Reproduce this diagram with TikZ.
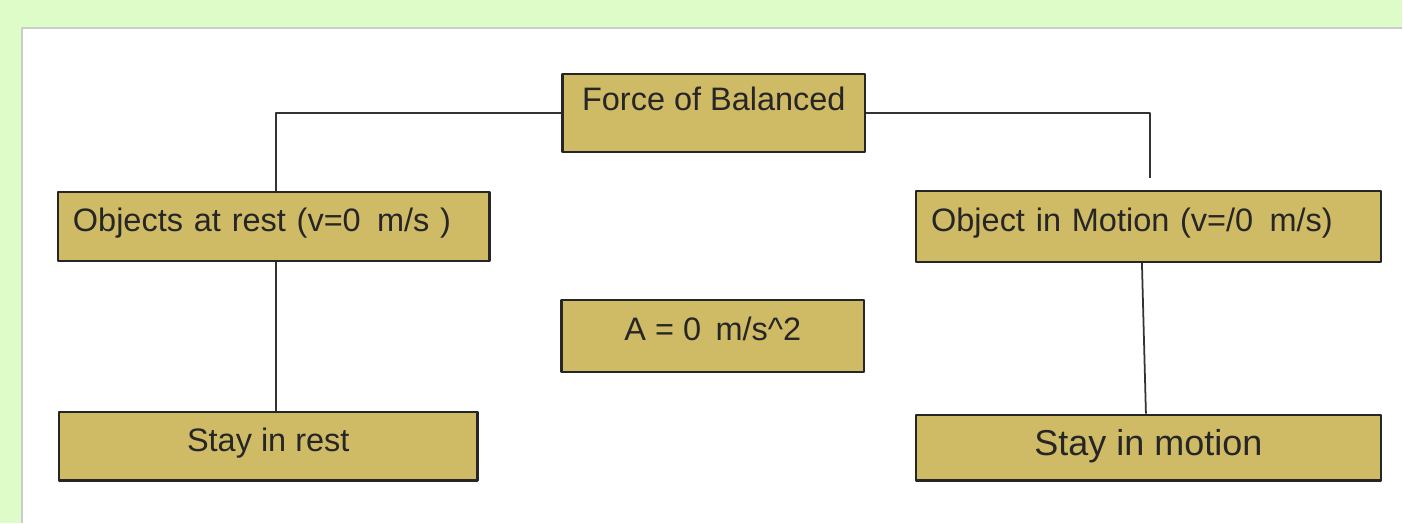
\documentclass[tikz,border=0pt]{standalone}
\usepackage{fontspec}
\setmainfont{Liberation Sans}
\definecolor{boxfill}{RGB}{207,186,102}
\definecolor{pagegreen}{RGB}{222,252,199}
\begin{document}
\begin{tikzpicture}[x=0.02cm, y=-0.02cm, line join=round, font=\fontsize{18.5}{22}\selectfont,
    box/.style={draw=black!85, line width=1.2pt, fill=boxfill, text=black!85, inner sep=0pt, text height=14pt, text depth=8pt},
    leftbox/.style={box, align=left, inner xsep=0.3cm},
    link/.style={draw=black!80, line width=1pt}]
    % page
    \fill[pagegreen] (0,0) rectangle (1403,523);
    \fill[white] (22,28) rectangle (1403,523);
    \draw[black!20, line width=1.5pt] (22,523) -- (22,28) -- (1403,28);
    % boxes
    \node[box, minimum width=6.06cm, minimum height=1.56cm, text depth=16.4pt] (force) at (714.5,113) {Force of Balanced};
    \node[leftbox, text width=8.04cm, minimum height=1.38cm] (rest) at (274,226.5) {Objects at rest (v=0\ \,m/s )};
    \node[leftbox, text width=8.7cm, minimum height=1.42cm] (motion) at (1149.5,226.5) {Object in Motion (v=/0\ \,m/s)};
    \node[box, minimum width=6.06cm, minimum height=1.44cm] (accel) at (713.5,336) {A = 0\ \,m/s\textasciicircum 2};
    \node[box, minimum width=8.38cm, minimum height=1.38cm] (stayrest) at (268.5,446.5) {Stay in rest};
    \node[box, minimum width=9.3cm, minimum height=1.32cm, font=\fontsize{20.5}{24}\selectfont, text depth=5.2pt] (staymotion) at (1149.5,448) {Stay in motion};
    % links
    \coordinate (mtop) at (1151,178);
    \draw[link] (force.west) -| ([xshift=0.04cm]rest.north);
    \draw[link] (force.east) -| (mtop);
    \draw[link] ([xshift=0.04cm]rest.south) -- ([xshift=0.04cm]rest.south |- stayrest.north);
    \draw[link] ([xshift=-0.13cm]motion.south) -- ([xshift=-0.05cm]staymotion.north);
\end{tikzpicture}
\end{document}
